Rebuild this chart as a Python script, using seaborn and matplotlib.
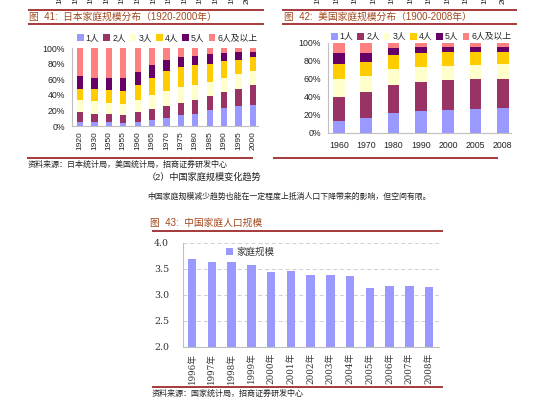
import numpy as np
import pandas as pd
import matplotlib
matplotlib.use('Agg')
import matplotlib.pyplot as plt
from matplotlib.lines import Line2D
from matplotlib.patches import Patch
import seaborn as sns

# ---- data ----
size_groups = ['1人', '2人', '3人', '4人', '5人', '6人及以上']
group_colors = ['#9999FF', '#993366', '#FFFFCC', '#FFCC00', '#660066', '#FF8080']

jp_years = ['1920', '1930', '1950', '1955', '1960', '1965', '1970',
            '1975', '1980', '1985', '1990', '1995', '2000']
jp_1 = [5, 5, 5, 3.5, 5, 8, 10.5, 13.5, 16, 20, 23, 26, 27.5]
jp_2 = [12.5, 11, 10.5, 10.5, 12.5, 14, 15.5, 16.5, 17, 19, 21, 22, 24.5]
jp_3 = [15.5, 15.5, 14.5, 14, 15.5, 18, 19, 19.5, 19.5, 18, 17.5, 18.5, 19]
jp_4 = [15, 15.5, 16, 17, 19, 22, 26, 26.5, 25.5, 23, 21.5, 18.5, 17]
jp_5 = [15.5, 14, 15, 17, 17, 16, 14, 13, 12, 12, 10, 10, 7]
jp_6 = [36.5, 39, 39, 38, 31, 22, 15, 11, 10, 8, 7, 5, 5]

us_years = ['1960', '1970', '1980', '1990', '2000', '2005', '2008']
us_1 = [13, 17, 22.5, 24.5, 25.5, 26.5, 27.5]
us_2 = [27.5, 29, 31, 32, 33, 33, 33]
us_3 = [19, 17, 17.5, 17, 16, 16, 16]
us_4 = [17.5, 15.5, 15.5, 15.5, 15, 14.5, 13.5]
us_5 = [11.5, 10.5, 7.5, 6.5, 6, 5.5, 5.5]
us_6 = [11.5, 11, 6, 4.5, 4.5, 4.5, 4.5]

cn_years = ['1996年', '1997年', '1998年', '1999年', '2000年', '2001年', '2002年',
            '2003年', '2004年', '2005年', '2006年', '2007年', '2008年']
cn_size = [3.70, 3.64, 3.63, 3.58, 3.44, 3.46, 3.39, 3.38, 3.36, 3.13, 3.17, 3.17, 3.16]

# cut-off labels of the chart above (previous page)
top_left_labels = ['1890', '1900', '1910', '1920', '1930', '1940', '1950',
                   '1960', '1970', '1980', '1990', '1995', '2000']
top_right_labels = ['1910', '1920', '1930', '1940', '1950', '1960', '1970',
                    '1980', '1990', '1995', '2000']

W, H = 542, 408
red_line = '#9E2A2B'
title_col = '#A0471C'
text_col = '#222222'
spine_col = '#BFBFBF'

sns.set_style('white')
plt.rcParams['font.family'] = ['Liberation Sans', 'Noto Sans CJK SC']


def fx(px):
    return px / W


def fy(py):
    return 1 - py / H


def hline(fig, x0, x1, y, lw=1.3):
    fig.add_artist(Line2D([fx(x0), fx(x1)], [fy(y), fy(y)], transform=fig.transFigure,
                          color=red_line, lw=lw, solid_capstyle='butt'))


def stacked(ax, years, layers):
    # draw cumulative totals from the top group down so the layers stack
    cum = np.cumsum(np.array(layers, dtype=float), axis=0) / 100.0
    for k in range(len(layers) - 1, -1, -1):
        sns.barplot(x=years, y=cum[k], order=years, color=group_colors[k], saturation=1,
                    width=0.43, linewidth=0, errorbar=None, ax=ax)
    ax.set_ylim(0, 1)
    ax.set_yticks([0, 0.2, 0.4, 0.6, 0.8, 1.0])
    ax.set_yticklabels([f'{v}%' for v in range(0, 101, 20)], fontsize=6.3)
    ax.set_xlabel('')
    ax.set_ylabel('')
    sns.despine(ax=ax)
    for s in ['left', 'bottom']:
        ax.spines[s].set_color(spine_col)
        ax.spines[s].set_linewidth(0.8)
    ax.tick_params(axis='y', length=2, width=0.6, color=spine_col, pad=3, colors=text_col)
    ax.tick_params(axis='x', length=0, colors=text_col)


fig = plt.figure(figsize=(W / 100, H / 100), dpi=100)

# ---- chart 41: Japan ----
ax1 = fig.add_axes([fx(72), fy(126), fx(258) - fx(72), fy(48) - fy(126)])
stacked(ax1, jp_years, [jp_1, jp_2, jp_3, jp_4, jp_5, jp_6])
ax1.set_xlim(-0.56, 12.36)
ax1.tick_params(axis='x', labelrotation=90, labelsize=6, pad=4)

# ---- chart 42: USA ----
ax2 = fig.add_axes([fx(328), fy(133), fx(511) - fx(328), fy(43) - fy(133)])
stacked(ax2, us_years, [us_1, us_2, us_3, us_4, us_5, us_6])
ax2.set_xlim(-0.4, 6.3)
ax2.tick_params(axis='x', labelsize=6.3, pad=6)

handles = [Patch(facecolor=c, edgecolor='none') for c in group_colors]
for x0, yc in [(77, 38), (331, 37)]:
    fig.legend(handles, size_groups, loc='center left', bbox_to_anchor=(fx(x0), fy(yc)),
               ncol=6, frameon=False, fontsize=6.3, handlelength=0.75, handleheight=0.75,
               handletextpad=0.25, columnspacing=0.45, borderpad=0, borderaxespad=0,
               labelcolor=text_col)

# ---- chart 43: China ----
ax3 = fig.add_axes([fx(183), fy(347), fx(439) - fx(183), fy(243) - fy(347)])
sns.barplot(x=cn_years, y=cn_size, order=cn_years, color='#9999FF', saturation=1,
            width=0.43, linewidth=0, errorbar=None, label='家庭规模', ax=ax3)
ax3.set_ylim(2.0, 4.0)
ax3.set_xlim(-0.46, 12.5)
ax3.set_yticks([2.0, 2.5, 3.0, 3.5, 4.0])
ax3.set_yticklabels([f'{v:.1f}' for v in [2.0, 2.5, 3.0, 3.5, 4.0]])
ax3.set_xlabel('')
ax3.set_ylabel('')
sns.despine(ax=ax3)
for s in ['left', 'bottom']:
    ax3.spines[s].set_color(spine_col)
    ax3.spines[s].set_linewidth(0.8)
ax3.set_axisbelow(True)
ax3.yaxis.grid(True, linestyle=(0, (4, 3)), color='#CFCFCF', linewidth=0.7)
ax3.set_xticks(np.arange(len(cn_years)) + 0.5, minor=True)
ax3.tick_params(axis='x', which='major', length=0, labelrotation=90, pad=4, labelsize=6.3,
                colors='#333333')
ax3.tick_params(axis='x', which='minor', length=3, direction='in', color=spine_col)
ax3.tick_params(axis='y', length=2, color=spine_col, pad=8, labelsize=6.8, colors='#333333')
for lbl in ax3.get_yticklabels():
    lbl.set_fontfamily(['DejaVu Serif'])
for lbl in ax3.get_xticklabels():
    lbl.set_fontfamily(['DejaVu Serif', 'Noto Sans CJK SC'])
ax3.legend(loc='center left', bbox_to_anchor=(fx(226), fy(252)),
           bbox_transform=fig.transFigure, frameon=False, fontsize=6.8, handlelength=0.75,
           handleheight=0.75, handletextpad=0.35, borderpad=0, borderaxespad=0,
           labelcolor='#333333')

# ---- page furniture ----
for x, lab in zip(np.linspace(60, 247, len(top_left_labels)), top_left_labels):
    fig.text(fx(x), fy(4.5), lab, rotation=90, ha='center', va='bottom', fontsize=6,
             color=text_col)
for x, lab in zip(np.linspace(318, 503, len(top_right_labels)), top_right_labels):
    fig.text(fx(x), fy(4.5), lab, rotation=90, ha='center', va='bottom', fontsize=6,
             color=text_col)

hline(fig, 28, 264, 10)
hline(fig, 28, 264, 24)
hline(fig, 282, 517, 10)
hline(fig, 282, 517, 24)
hline(fig, 27, 253, 158)
hline(fig, 273, 498, 158)
hline(fig, 152, 443, 231)
hline(fig, 152, 443, 387)

fig.text(fx(29), fy(17), '图  41:  日本家庭规模分布（1920-2000年）', va='center',
         fontsize=7, color=title_col)
fig.text(fx(284), fy(17), '图  42:  美国家庭规模分布（1900-2008年）', va='center',
         fontsize=7, color=title_col)
fig.text(fx(28), fy(165), '资料来源：日本统计局，美国统计局，招商证券研发中心', va='center',
         fontsize=5.8, color=text_col)
fig.text(fx(147), fy(177), '（2）中国家庭规模变化趋势', va='center', fontsize=6.6,
         color=text_col)
fig.text(fx(147), fy(197), '中国家庭规模减少趋势也能在一定程度上抵消人口下降带来的影响，但空间有限。',
         va='center', fontsize=5.7, color=text_col)
fig.text(fx(150), fy(223), '图  43:  中国家庭人口规模', va='center', fontsize=7, color=title_col)
fig.text(fx(152), fy(394), '资料来源：国家统计局，招商证券研发中心', va='center',
         fontsize=5.8, color=text_col)

fig.savefig('out.png', dpi=100)
